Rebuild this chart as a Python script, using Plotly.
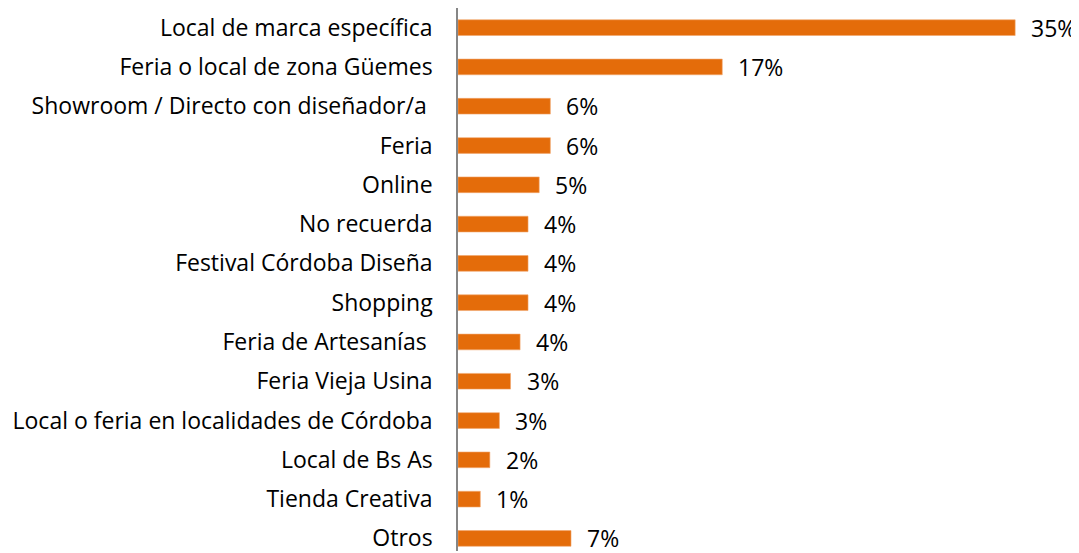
import plotly.graph_objects as go

categories = [
    "Local de marca específica",
    "Feria o local de zona Güemes",
    "Showroom / Directo con diseñador/a\u00a0",
    "Feria",
    "Online",
    "No recuerda",
    "Festival Córdoba Diseña",
    "Shopping",
    "Feria de Artesanías\u00a0",
    "Feria Vieja Usina",
    "Local o feria en localidades de Córdoba",
    "Local de Bs As",
    "Tienda Creativa",
    "Otros",
]
values = [35.0, 16.6, 5.8, 5.8, 5.1, 4.4, 4.4, 4.4, 3.9, 3.3, 2.6, 2.0, 1.4, 7.1]
labels = ["35%", "17%", "6%", "6%", "5%", "4%", "4%", "4%", "4%", "3%", "3%", "2%", "1%", "7%"]

FONT = "Open Sans"
FS = 23
fig = go.Figure()
fig.add_trace(go.Bar(
    x=values, y=categories, orientation="h",
    marker=dict(color="#E46C0A", line=dict(color="#F2A66B", width=0.6)),
    width=0.4,
    hoverinfo="skip",
))
for v, c, t in zip(values, categories, labels):
    fig.add_annotation(x=v, y=c, text=t, xanchor="left", yanchor="middle",
                       xshift=14, yshift=0, showarrow=False,
                       font=dict(family=FONT, size=FS, color="#000000"))

fig.update_layout(
    width=1071, height=545,
    margin=dict(l=449.5, r=32, t=0.3, b=0),
    paper_bgcolor="white", plot_bgcolor="white",
    showlegend=False,
    font=dict(family=FONT, size=FS, color="#000000"),
)
fig.update_xaxes(range=[0, 37], visible=False, showgrid=False, zeroline=False)
fig.update_yaxes(
    categoryorder="array", categoryarray=categories,
    range=[13.32, -0.5],
    showgrid=False, zeroline=False,
    showline=True, linecolor="#868686", linewidth=1.5,
    ticks="", ticklabelstandoff=19,
    tickfont=dict(family=FONT, size=FS, color="#000000"),
)
fig.write_html("out.html")
